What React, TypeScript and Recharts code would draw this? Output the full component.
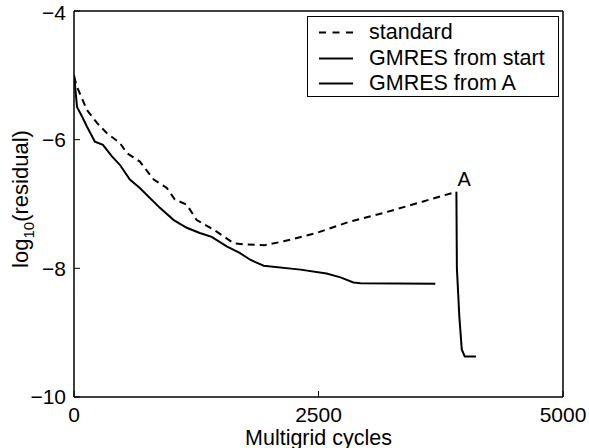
import { LineChart, Line, XAxis, YAxis, Legend, ReferenceDot } from 'recharts';

const FONT = '"Liberation Sans", Arial, Helvetica, sans-serif';

// standard multigrid
const stdCycles = [0, 31, 133, 235, 337, 469, 541, 673, 816, 949, 1031, 1153, 1255, 1429, 1633, 1765, 1949, 2143, 2480, 2827, 3163, 3571, 3910];
const stdResidual = [-5.02, -5.18, -5.54, -5.74, -5.9, -6.05, -6.21, -6.34, -6.62, -6.75, -6.93, -7.01, -7.25, -7.4, -7.61, -7.63, -7.64, -7.58, -7.45, -7.27, -7.14, -6.96, -6.81];

// GMRES from start
const gmresCycles = [0, 31, 82, 133, 214, 296, 388, 469, 571, 673, 878, 1020, 1153, 1286, 1408, 1561, 1694, 1806, 1939, 2316, 2582, 2725, 2857, 2929, 3694];
const gmresResidual = [-4.99, -5.49, -5.64, -5.8, -6.03, -6.08, -6.26, -6.39, -6.62, -6.75, -7.06, -7.25, -7.37, -7.45, -7.51, -7.66, -7.76, -7.87, -7.96, -8.02, -8.08, -8.14, -8.22, -8.23, -8.24];

// GMRES restarted from point A
const fromACycles = [3910, 3915, 3940, 3965, 3995, 4110];
const fromAResidual = [-6.81, -8.0, -8.75, -9.26, -9.37, -9.37];

const pointA = { x: 3910, y: -6.81 };

const xTicks = [0, 2500, 5000];
const yTicks = [-10, -8, -6, -4];

const zip = (xs: number[], ys: number[]) => xs.map((x, i) => ({ x, y: ys[i] }));
const stdData = zip(stdCycles, stdResidual);
const gmresData = zip(gmresCycles, gmresResidual);
const fromAData = zip(fromACycles, fromAResidual);

const legendItems = [
  { name: 'standard', dash: '7 6.5' },
  { name: 'GMRES from start', dash: undefined },
  { name: 'GMRES from A', dash: undefined },
];

const renderLegend = () => (
  <div style={{ border: '1px solid #000', background: '#fff', width: 252, height: 81, boxSizing: 'border-box', paddingTop: 3, fontFamily: FONT, fontSize: 21.5, color: '#000' }}>
    {legendItems.map((it) => (
      <div key={it.name} style={{ display: 'flex', alignItems: 'center', height: 25.5, lineHeight: '25.5px' }}>
        <svg width={61} height={25} style={{ flex: 'none' }}>
          <line x1={11} x2={45} y1={12.5} y2={12.5} stroke="#000" strokeWidth={2} strokeDasharray={it.dash} />
        </svg>
        <span>{it.name}</span>
      </div>
    ))}
  </div>
);

const fmt = (v: number) => (v < 0 ? '\u2212' + Math.abs(v) : String(v));

const tickStyle = { fill: '#000', fontSize: 21, fontFamily: FONT };

export default function App() {
  return (
    <div style={{ position: 'absolute', left: 0, top: 0, width: 589, height: 448, background: '#fff' }}>
      <LineChart width={589} height={448} margin={{ top: 0, right: 0, bottom: 0, left: 0 }}>
        <XAxis
          xAxisId="bottom"
          dataKey="x"
          type="number"
          domain={[0, 5000]}
          ticks={xTicks}
          allowDataOverflow
          height={51}
          tickSize={-6}
          tickMargin={16}
          tick={tickStyle}
          axisLine={{ stroke: '#000', strokeWidth: 1.5 }}
          tickLine={{ stroke: '#000' }}
          label={{ value: 'Multigrid cycles', position: 'insideBottom', offset: 3, fill: '#000', fontSize: 21.5, fontFamily: FONT }}
        />
        <XAxis
          xAxisId="top"
          orientation="top"
          dataKey="x"
          type="number"
          domain={[0, 5000]}
          ticks={xTicks}
          allowDataOverflow
          height={11}
          tickSize={-6}
          tick={false}
          axisLine={{ stroke: '#000', strokeWidth: 1.5 }}
          tickLine={{ stroke: '#000' }}
        />
        <YAxis
          yAxisId="left"
          type="number"
          domain={[-10, -4]}
          ticks={yTicks}
          allowDataOverflow
          width={74}
          tickSize={-6}
          tickMargin={14}
          tickFormatter={fmt}
          tick={tickStyle}
          axisLine={{ stroke: '#000', strokeWidth: 1.5 }}
          tickLine={{ stroke: '#000' }}
          label={{
            content: () => (
              <text x={28} y={199} transform="rotate(-90, 28, 199)" textAnchor="middle" fill="#000" fontSize={22} fontFamily={FONT}>
                log<tspan fontSize={15} dy={6}>10</tspan><tspan dy={-6}>(residual)</tspan>
              </text>
            ),
          }}
        />
        <YAxis
          yAxisId="right"
          orientation="right"
          type="number"
          domain={[-10, -4]}
          ticks={yTicks}
          allowDataOverflow
          width={26}
          tickSize={-6}
          tick={false}
          axisLine={{ stroke: '#000', strokeWidth: 1.5 }}
          tickLine={{ stroke: '#000' }}
        />
        <Legend
          layout="vertical"
          align="center"
          verticalAlign="middle"
          content={renderLegend}
          wrapperStyle={{ left: 307, top: 16, width: 252, height: 81 }}
        />
        <Line xAxisId="bottom" yAxisId="left" data={stdData} dataKey="y" type="linear" stroke="#000" strokeWidth={2} strokeDasharray="7 5" dot={false} isAnimationActive={false} />
        <Line xAxisId="bottom" yAxisId="left" data={gmresData} dataKey="y" type="linear" stroke="#000" strokeWidth={2} dot={false} isAnimationActive={false} />
        <Line xAxisId="bottom" yAxisId="left" data={fromAData} dataKey="y" type="linear" stroke="#000" strokeWidth={2} dot={false} isAnimationActive={false} />
        <ReferenceDot
          xAxisId="bottom"
          yAxisId="left"
          x={pointA.x}
          y={pointA.y}
          r={0}
          stroke="none"
          label={(p: any) => (
            <text x={p.viewBox.x + 1} y={p.viewBox.y - 6} fill="#000" fontSize={20} fontFamily={FONT}>A</text>
          )}
        />
      </LineChart>
    </div>
  );
}
